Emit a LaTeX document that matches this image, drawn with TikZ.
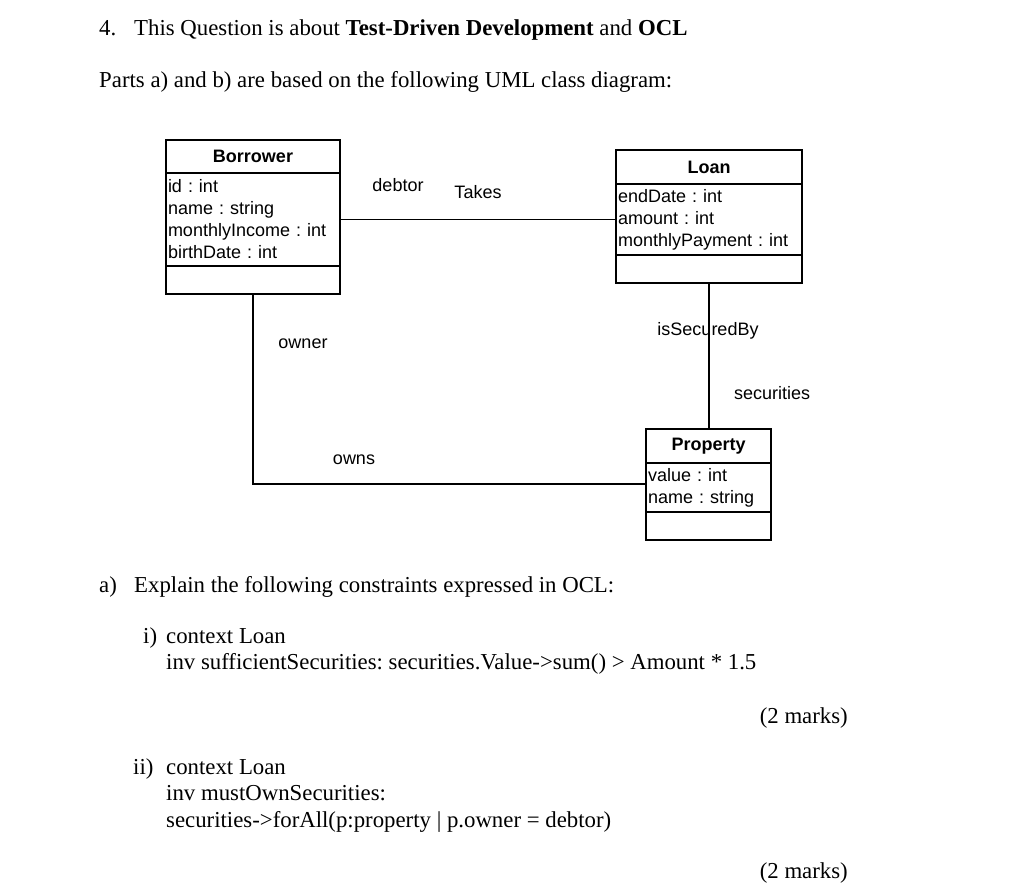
\documentclass[tikz,border=0pt]{standalone}
\usepackage{fontspec}
\setmainfont{Liberation Serif}
\newfontfamily\umlfont{Liberation Sans}
\frenchspacing
\begin{document}
\begin{tikzpicture}[x=1pt,y=-1pt,
  cls/.style={draw, line width=1.1pt, anchor=north west, inner sep=0pt, outer sep=0pt,
    font=\umlfont\fontsize{18}{22}\selectfont},
  clshead/.style={cls, font=\umlfont\bfseries\fontsize{18}{22}\selectfont, align=center},
  clsattr/.style={cls, align=left, inner xsep=2pt},
  lab/.style={font=\umlfont\fontsize{18}{22}\selectfont, inner sep=0pt},
  txt/.style={font=\fontsize{22.8}{26}\selectfont, anchor=base west, inner sep=0pt},
  assoc/.style={line width=1.1pt}]
\useasboundingbox (0,0) rectangle (1024,894);

% Borrower
\node[clshead, minimum width=174pt, minimum height=33pt] (borH) at (166,140) {Borrower};
\node[clsattr, minimum width=174pt, minimum height=93pt, text width=170pt] (borA) at (166,173)
  {id : int\\name : string\\monthlyIncome : int\\birthDate : int};
\node[cls, minimum width=174pt, minimum height=28pt] (borO) at (166,266) {};

% Loan
\node[clshead, minimum width=186pt, minimum height=34pt] (loanH) at (616,150) {Loan};
\node[clsattr, minimum width=186pt, minimum height=71pt, text width=182pt] (loanA) at (616,184)
  {endDate : int\\amount : int\\monthlyPayment : int};
\node[cls, minimum width=186pt, minimum height=28pt] (loanO) at (616,255) {};

% Property
\node[clshead, minimum width=125pt, minimum height=34pt] (propH) at (646,429) {Property};
\node[clsattr, minimum width=125pt, minimum height=49pt, text width=121pt] (propA) at (646,463)
  {value : int\\name : string};
\node[cls, minimum width=125pt, minimum height=28pt] (propO) at (646,512) {};

% associations
\draw[assoc] (borA.east) -- (loanA.west);
\draw[assoc] (borO.south) |- ([yshift=3.5pt]propA.west);
\draw[assoc] (loanO.south) -- (loanO.south |- propH.north);

% association labels
\node[lab] (ldebtor) at (398,185) {debtor};
\node[lab] (ltakes) at (478,192) {Takes};
\node[lab] (lowner) at (303,344) {owner};
\node[lab] (lowns) at (354,460) {owns};
\node[lab] (lsecby) at (708,331) {isSecuredBy};
\node[lab] (lsec) at (772,393) {securities};

% question text
\node[txt] (q4n) at (99,35.5) {4.};
\node[txt] (q4) at (134,35.5) {This Question is about \textbf{Test-Driven Development} and \textbf{OCL}};
\node[txt] (parts) at (99,87.5) {Parts a) and b) are based on the following UML class diagram:};
\node[txt] (an) at (99,592.5) {a)};
\node[txt] (a) at (134,592.5) {Explain the following constraints expressed in OCL:};
\node[txt] (in) at (143,643.5) {i)};
\node[txt] (i1) at (166,643.5) {context Loan};
\node[txt] (i2) at (166,669.5) {inv sufficientSecurities: securities.Value->sum() > Amount * 1.5};
\node[txt, anchor=base east] (m1) at (848,723) {(2 marks)};
\node[txt] (iin) at (133,774.5) {ii)};
\node[txt] (ii1) at (166,774.5) {context Loan};
\node[txt] (ii2) at (166,800.5) {inv mustOwnSecurities:};
\node[txt] (ii3) at (166,827) {securities->forAll(p:property | p.owner = debtor)};
\node[txt, anchor=base east] (m2) at (848,878) {(2 marks)};
\end{tikzpicture}
\end{document}
